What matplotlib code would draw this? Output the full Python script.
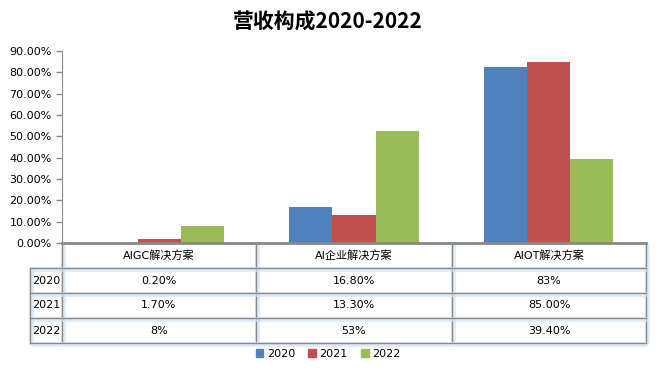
import numpy as np
import matplotlib
matplotlib.use("Agg")
from matplotlib import pyplot as plt
from matplotlib.patches import Patch

plt.rcParams['font.family'] = ['DejaVu Sans', 'Noto Sans CJK SC']

categories = ["AIGC解决方案", "AI企业解决方案", "AIOT解决方案"]
years = ["2020", "2021", "2022"]
v2020 = [0.2, 16.8, 82.7]
v2021 = [1.7, 13.3, 85.0]
v2022 = [7.8, 52.6, 39.4]
labels2020 = ["0.20%", "16.80%", "83%"]
labels2021 = ["1.70%", "13.30%", "85.00%"]
labels2022 = ["8%", "53%", "39.40%"]
colors = ["#4f81bd", "#c0504d", "#9bbb59"]

W, H = 656, 375
fig = plt.figure(figsize=(W / 100, H / 100), dpi=100)

# bar axes
ax = fig.add_axes([62 / W, 1 - 243 / H, 584 / W, 192 / H])
x = np.arange(len(categories))
bw = 0.222
for i, vals in enumerate([v2020, v2021, v2022]):
    ax.bar(x + (i - 1) * bw, vals, bw, color=colors[i])
ax.set_xlim(-0.5, 2.5)
ax.set_ylim(0, 90)
ax.set_yticks(np.arange(0, 91, 10))
ax.set_yticklabels(["%.2f%%" % t for t in np.arange(0, 91, 10)], fontsize=8)
ax.set_xticks([])
for s in ["top", "right", "bottom"]:
    ax.spines[s].set_visible(False)
ax.spines["left"].set_color("#888888")
ax.tick_params(axis="y", colors="#888888", labelcolor="black", length=4, width=1)

fig.text(0.5, 1 - 22 / H, "营收构成2020-2022", ha="center", va="center",
         fontsize=15, fontweight="bold", family=['Noto Sans CJK SC'])

# data table
tx = fig.add_axes([0, 0, 1, 1])
tx.set_xlim(0, W)
tx.set_ylim(H, 0)
tx.axis("off")
cols = [62, 256, 452, 646]
rows = [243, 268, 293, 318, 343]
glow = "#d2e4f4"
line = "#8a8a8a"

def seg(xs, ys):
    tx.plot([a + 1 for a in xs], [b + 1 for b in ys], color=glow, lw=3.5, alpha=0.7,
            solid_capstyle="butt")
    tx.plot(xs, ys, color=line, lw=1)

for c in cols:
    seg([c, c], [rows[0], rows[-1]])
seg([30, 30], [rows[1], rows[-1]])
for r in rows[1:]:
    seg([30, cols[-1]], [r, r])
tx.plot([cols[0], cols[-1]], [rows[0], rows[0]], color="#888888", lw=2)

for j, cat in enumerate(categories):
    cx = (cols[j] + cols[j + 1]) / 2
    tx.text(cx, (rows[0] + rows[1]) / 2, cat, ha="center", va="center", fontsize=8)
for i, labs in enumerate([labels2020, labels2021, labels2022]):
    cy = (rows[i + 1] + rows[i + 2]) / 2
    tx.text(32, cy, years[i], ha="left", va="center", fontsize=8)
    for j, lab in enumerate(labs):
        cx = (cols[j] + cols[j + 1]) / 2
        tx.text(cx, cy, lab, ha="center", va="center", fontsize=8)

handles = [Patch(color=colors[i], label=years[i]) for i in range(3)]
fig.legend(handles=handles, loc="center", bbox_to_anchor=(0.5, 1 - 354 / H), ncol=3,
           frameon=False, fontsize=8, handlelength=0.7, handleheight=0.7,
           handletextpad=0.3, columnspacing=1.2)

fig.savefig("out.png", dpi=100)
